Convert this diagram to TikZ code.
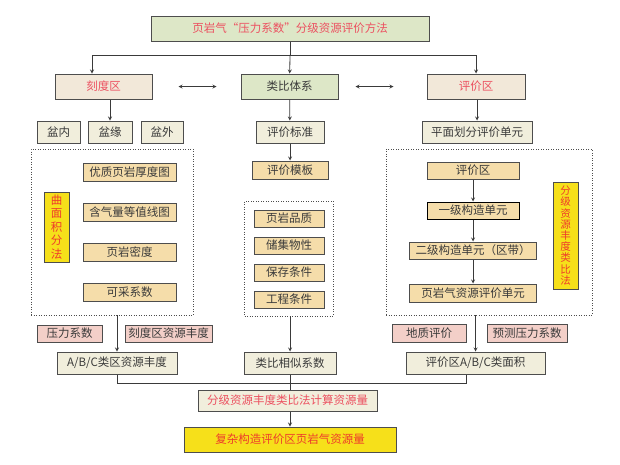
\documentclass[tikz,border=0pt]{standalone}
\usepackage{fontspec}
\usepackage{tikz}
\newfontfamily\cjk{Noto Sans CJK SC}
\definecolor{grn}{HTML}{DDE7C7}
\definecolor{beige}{HTML}{F2E8D9}
\definecolor{cream}{HTML}{F1EEDC}
\definecolor{tan}{HTML}{F5DDAA}
\definecolor{pink}{HTML}{F3CFC8}
\definecolor{yel}{HTML}{F6E01A}
\definecolor{redtxt}{HTML}{EC5060}
\definecolor{vred}{HTML}{EE3B2B}
\definecolor{txt}{HTML}{3A3A3A}
\definecolor{boxline}{HTML}{4D4D4D}
\definecolor{linecol}{HTML}{3A3A3A}

\begin{document}
\begin{tikzpicture}[x=1pt,y=-1pt,>=stealth]
        \tikzstyle{box} = [draw=boxline,line width=1pt,inner sep=0pt,text=txt,font=\cjk\fontsize{11.5}{13}\selectfont]
        \tikzstyle{green box} = [box,fill=grn,minimum height=25]
        \tikzstyle{head box} = [box,fill=beige,text=redtxt,minimum height=25]
        \tikzstyle{cream box} = [box,fill=cream,minimum height=22]
        \tikzstyle{tan box} = [box,fill=tan,minimum height=18]
        \tikzstyle{pink box} = [box,fill=pink,minimum height=18]
        \tikzstyle{yellow box} = [box,fill=yel,text=vred,align=center]
        \tikzstyle{dot box} = [draw=boxline,line width=0.8pt,dash pattern=on 0.9pt off 1.6pt,inner sep=0pt]
        \tikzstyle{link} = [draw=linecol,line width=0.8pt]
        \useasboundingbox (0,0) rectangle (620,464);
        % top
        \node[green box,text=redtxt,minimum width=278] (title) at (290,28.5) {页岩气“压力系数”分级资源评价方法};
        \node[head box,minimum width=97] (kdq) at (103.5,86.5) {刻度区};
        \node[green box,minimum width=97] (lbtx) at (289.5,86.5) {类比体系};
        \node[head box,minimum width=98] (pjq) at (476,86.5) {评价区};
        \coordinate (br) at (290,55);
        \draw[link] (title) -- (br);
        \draw[link,->] (br) -| ([xshift=-11.5pt]kdq.north);
        \draw[link,->] (br) -- (lbtx);
        \draw[link,->] (br) -| (pjq);
        \draw[link,<->,shorten <=26pt,shorten >=24pt] (kdq) -- (lbtx);
        \draw[link,<->,shorten <=17pt,shorten >=33pt] (lbtx) -- (pjq);
        \node[cream box,minimum width=43] (pn) at (58.5,132) {盆内};
        \node[cream box,minimum width=44] (py) at (110,132) {盆缘};
        \node[cream box,minimum width=42] (pw) at (162,132) {盆外};
        \node[cream box,minimum width=68] (pjbz) at (290,132) {评价标准};
        \node[cream box,minimum width=110] (pmhf) at (477,132) {平面划分评价单元};
        \draw[link,->] (kdq.south -| py) -- (py);
        \draw[link,->] (lbtx) -- (pjbz);
        \draw[link,->] (pjq.south -| pmhf) -- (pmhf);
        % left
        \node[dot box,minimum width=162,minimum height=166] (lbox) at (112,232) {};
        \node[yellow box,minimum width=25,minimum height=70,font=\cjk\fontsize{11.5}{13.5}\selectfont] (qmjf) at (56.5,227) {曲\\面\\积\\分\\法};
        \foreach \t [count=\i] in {优质页岩厚度图,含气量等值线图,页岩密度,可采系数}
          \node[tan box,minimum width=93] (l\i) at (129.5,132+40*\i) {\t};
        % middle
        \node[tan box,minimum width=76] (pjmb) at (290,170) {评价模板};
        \draw[link,->] (pjbz) -- (pjmb);
        \node[dot box,minimum width=88.5,minimum height=115] (mbox) at (288.75,258.5) {};
        \foreach \t [count=\i] in {页岩品质,储集物性,保存条件,工程条件}
          \node[tan box,minimum width=70,minimum height=17] (m\i) at (289,191.5+27*\i) {\t};
        % right
        \node[dot box,minimum width=206,minimum height=166] (rbox) at (489,232) {};
        \node[tan box,minimum width=92,minimum height=17] (r1) at (473,170.5) {评价区};
        \node[tan box,draw=black,minimum width=92,minimum height=17] (r2) at (473,210.5) {一级构造单元};
        \node[tan box,minimum width=127,minimum height=17] (r3) at (473,250.5) {二级构造单元（区带）};
        \node[tan box,minimum width=127] (r4) at (473,293) {页岩气资源评价单元};
        \foreach \a/\b in {r1/r2,r2/r3,r3/r4}
          \draw[link,->] (\a) -- (\b);
        \node[yellow box,minimum width=25,minimum height=107,font=\cjk\fontsize{10.5}{11.2}\selectfont] (fjlb) at (565.5,235.5) {分\\级\\资\\源\\丰\\度\\类\\比\\法};
        % bottom
        \node[pink box,minimum width=65,minimum height=17] (ylxs) at (69.5,333.5) {压力系数};
        \node[pink box,minimum width=87,minimum height=17] (kdfd) at (168.5,333.5) {刻度区资源丰度};
        \node[pink box,minimum width=74] (dzpj) at (429,333) {地质评价};
        \node[pink box,minimum width=80] (ycyl) at (527,333) {预测压力系数};
        \node[cream box,minimum width=120] (abc) at (117,363) {A/B/C类区资源丰度};
        \node[cream box,minimum width=92] (lbxs) at (290,363) {类比相似系数};
        \node[cream box,minimum width=139] (mj) at (475.5,363) {评价区A/B/C类面积};
        \draw[link,->] (lbox.south -| abc) -- (abc);
        \draw[link,->] (mbox.south -| lbxs) -- (lbxs);
        \draw[link,->] (rbox.south -| mj) -- (mj);
        \node[cream box,text=redtxt,minimum width=179,minimum height=21] (fj) at (287.5,400.5) {分级资源丰度类比法计算资源量};
        \node[box,fill=yel,text=vred,minimum width=212,minimum height=25] (total) at (290,439.5) {复杂构造评价区页岩气资源量};
        \coordinate (jn) at (290,383);
        \draw[link] (abc.south) |- (jn) -| ([xshift=-9.5pt]mj.south);
        \draw[link] (lbxs) -- (fj.north -| lbxs);
        \draw[link,->] (fj.south -| total) -- (total);
\end{tikzpicture}
\end{document}
